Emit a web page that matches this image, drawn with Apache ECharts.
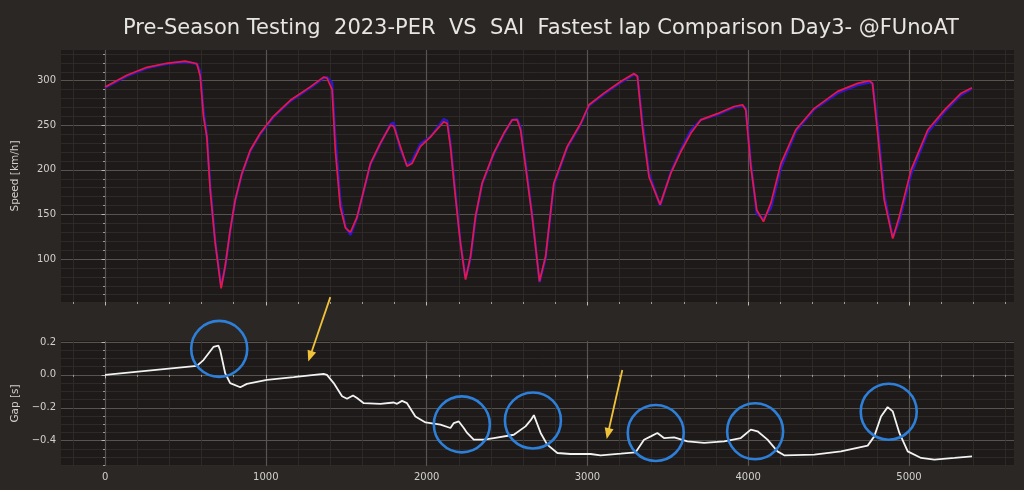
<!DOCTYPE html>
<html><head><meta charset="utf-8">
<script src="https://cdn.jsdelivr.net/npm/echarts@6/dist/echarts.min.js"></script>
<style>html,body{margin:0;padding:0;background:#2a2725;}#c{width:1024px;height:490px;}</style>
</head><body><div id="c"></div>
<script>
// ---- data ----
const titleText = 'Pre-Season Testing  2023-PER  VS  SAI  Fastest lap Comparison Day3- @FUnoAT';
const distance = [0,135,260,384,498,571,592,612,633,654,685,722,747,778,809,851,903,965,1047,1152,1276,1359,1380,1412,1432,1463,1495,1526,1567,1650,1712,1775,1795,1837,1878,1909,1961,2024,2107,2128,2148,2179,2210,2242,2273,2304,2345,2418,2480,2532,2563,2584,2615,2656,2702,2740,2791,2874,2958,3010,3103,3207,3290,3311,3342,3383,3452,3518,3580,3643,3705,3808,3912,3965,3985,4016,4053,4095,4141,4203,4296,4411,4556,4680,4753,4773,4805,4846,4899,4940,5013,5117,5220,5324,5392];
const saiSpeed = [293,306,315,319.5,322,319,305,260,237,177,118,67,92,132,166,196,222,241,260,278,293,304,303,290,222,158,135,130,147,207,230,250,249,226,204,207,226,237,254,252,226,170,118,77,103,148,185,219,241,256,256,245,204,148,75,103,185,226,252,273,286,299,308,305,248,192,161,196,220,241,256,263,271,273,267,204,155,142,163,207,245,269,288,297,300,297,241,166,123,148,200,245,267,286,292];
const perSpeed = [292,305,314,319,321,319,310,266,239,182,120,69,91,131,165,195,221,240,259,277,292,303,304,298,236,166,136,127,146,206,229,251,253,223,205,210,229,237,257,255,230,174,119,78,101,146,184,218,240,256,257,248,208,150,74,101,183,225,251,272,285,298,307,305,254,196,160,197,222,244,256,262,270,272,269,208,151,145,157,202,243,268,286,295,298,297,250,172,124,143,195,242,265,284,291];
const gapDist = [0,571,612,643,674,705,716,747,778,841,882,1007,1173,1359,1380,1422,1474,1505,1542,1567,1609,1712,1795,1816,1847,1878,1930,1993,2086,2148,2169,2200,2231,2252,2293,2356,2418,2542,2615,2646,2667,2709,2750,2813,2895,3020,3082,3207,3300,3352,3394,3435,3476,3539,3622,3726,3850,3954,4016,4058,4120,4182,4224,4411,4577,4743,4784,4826,4867,4899,4940,4992,5075,5158,5283,5392];
const gapValues = [0,0.055,0.09,0.13,0.17,0.178,0.15,0.01,-0.05,-0.075,-0.055,-0.03,-0.014,0.006,0,-0.05,-0.13,-0.145,-0.125,-0.141,-0.172,-0.176,-0.168,-0.176,-0.158,-0.172,-0.253,-0.289,-0.303,-0.323,-0.293,-0.283,-0.323,-0.353,-0.394,-0.394,-0.384,-0.364,-0.313,-0.277,-0.245,-0.353,-0.424,-0.475,-0.481,-0.481,-0.489,-0.479,-0.471,-0.394,-0.374,-0.353,-0.384,-0.38,-0.404,-0.414,-0.404,-0.384,-0.333,-0.343,-0.394,-0.465,-0.489,-0.485,-0.465,-0.43,-0.374,-0.253,-0.196,-0.222,-0.353,-0.465,-0.505,-0.515,-0.505,-0.495];
const xMajorTicks = [0,1000,2000,3000,4000,5000];
const xMinorTicks = [-200,200,400,600,800,1200,1400,1600,1800,2200,2400,2600,2800,3200,3400,3600,3800,4200,4400,4600,4800,5200,5400,5600];
const speedTicks = [100,150,200,250,300];
const speedMinorTicks = [60,70,80,90,110,120,130,140,160,170,180,190,210,220,230,240,260,270,280,290,310,320,330];
const gapTicks = [-0.4,-0.2,0,0.2];
const gapMinorTicks = [-0.55,-0.5,-0.45,-0.35,-0.3,-0.25,-0.15,-0.1,-0.05,0.05,0.1,0.15];
// annotation anchors in (distance, gap) data space
const circleCenters = [[710,0.158],[2219,-0.301],[2661,-0.277],[3425,-0.353],[4043,-0.343],[4874,-0.224]];
const arrowLines = [[[1401,0.473],[1264,0.081]],[[3217,0.030],[3120,-0.39]]];

// ---- styles ----
const FONT = 'DejaVu Sans';
const majorGrid = {show:true, lineStyle:{color:'#57534f', width:1.2}};
const minorGrid = {show:true, lineStyle:{color:'#312d2b', width:0.8}};
const tickColor = '#bdbab6';
const labelColor = '#d2d0cd';

function xAxes(gridIndex, showLabels){
  return [
    {type:'value', gridIndex, min:-274, max:5653, position:'bottom',
     axisLine:{show:false}, splitLine:majorGrid,
     axisTick:{show:true, customValues:xMajorTicks, length:3.5, lineStyle:{color:tickColor, width:1}},
     axisLabel:{show:showLabels, customValues:xMajorTicks, color:labelColor, fontFamily:FONT, fontSize:10, margin:6, formatter:v=>String(v)}},
    {type:'value', gridIndex, min:-274, max:5653, position:'bottom',
     axisLine:{show:false}, splitLine:minorGrid,
     axisTick:{show:true, customValues:xMinorTicks, length:2, lineStyle:{color:tickColor, width:0.8}},
     axisLabel:{show:false}}
  ];
}
function yAxes(gridIndex, min, max, major, minor, fmt, name){
  return [
    {type:'value', gridIndex, min, max, position:'left',
     name, nameLocation:'middle', nameGap:40, nameTextStyle:{color:labelColor, fontFamily:FONT, fontSize:10.5},
     axisLine:{show:false}, splitLine:majorGrid,
     axisTick:{show:true, customValues:major, length:3.5, lineStyle:{color:tickColor, width:1}},
     axisLabel:{show:true, customValues:major, color:labelColor, fontFamily:FONT, fontSize:10, margin:5, formatter:fmt}},
    {type:'value', gridIndex, min, max, position:'left',
     axisLine:{show:false}, splitLine:minorGrid,
     axisTick:{show:true, customValues:minor, length:2, lineStyle:{color:tickColor, width:0.8}},
     axisLabel:{show:false}}
  ];
}
const gapFmt = v => { const r = Math.round(v*10)/10; return (r < 0 ? '\u2212' : '') + Math.abs(r).toFixed(1); };

const chart = echarts.init(document.getElementById('c'), null, {renderer:'canvas'});
chart.setOption({
  backgroundColor:'#2a2725',
  animation:false,
  title:{text:titleText, left:118, top:13, textStyle:{color:'#e8e6e3', fontFamily:FONT, fontSize:21, fontWeight:'normal'}},
  grid:[
    {left:61, top:50, width:953, height:252, show:true, backgroundColor:'#1d1a19', borderWidth:0, outerBoundsMode:'none'},
    {left:61, top:341, width:953, height:125, show:true, backgroundColor:'#1d1a19', borderWidth:0, outerBoundsMode:'none'}
  ],
  xAxis:[...xAxes(0,false), ...xAxes(1,true)],
  yAxis:[...yAxes(0,51.8,334.4,speedTicks,speedMinorTicks,v=>String(v),'Speed [km/h]'),
         ...yAxes(1,-0.554,0.206,gapTicks,gapMinorTicks,gapFmt,'Gap [s]')],
  series:[
    {type:'line', name:'PER', xAxisIndex:0, yAxisIndex:0, showSymbol:false, z:3,
     data:distance.map((d,i)=>[d,perSpeed[i]]), lineStyle:{color:'#2a18cc', width:2.4}},
    {type:'line', name:'SAI', xAxisIndex:0, yAxisIndex:0, showSymbol:false, z:4,
     data:distance.map((d,i)=>[d,saiSpeed[i]]), lineStyle:{color:'#e81842', width:1.7}},
    {type:'line', name:'Gap', xAxisIndex:2, yAxisIndex:2, showSymbol:false, z:4,
     data:gapDist.map((d,i)=>[d,gapValues[i]]), lineStyle:{color:'#f2f2f2', width:1.8}}
  ]
});

// annotations placed through the gap series' coordinate system
const toPx = p => chart.convertToPixel({seriesIndex:2}, p);
const els = [];
circleCenters.forEach(c => {
  const p = toPx(c);
  els.push({type:'circle', z:100, shape:{cx:p[0], cy:p[1], r:28}, style:{fill:null, stroke:'#2d7fd8', lineWidth:2.6}});
});
arrowLines.forEach(a => {
  const s = toPx(a[0]), e = toPx(a[1]);
  const dx = e[0]-s[0], dy = e[1]-s[1], L = Math.hypot(dx,dy);
  const ux = dx/L, uy = dy/L, nx = -uy, ny = ux;
  const hl = 11, hw = 4.5;
  els.push({type:'line', z:100, shape:{x1:s[0], y1:s[1], x2:e[0]-ux*hl*0.7, y2:e[1]-uy*hl*0.7}, style:{stroke:'#f0c23a', lineWidth:1.8}});
  els.push({type:'polygon', z:100, shape:{points:[[e[0],e[1]],[e[0]-ux*hl+nx*hw, e[1]-uy*hl+ny*hw],[e[0]-ux*hl-nx*hw, e[1]-uy*hl-ny*hw]]}, style:{fill:'#f0c23a'}});
});
chart.setOption({graphic:els});
</script>
</body></html>
